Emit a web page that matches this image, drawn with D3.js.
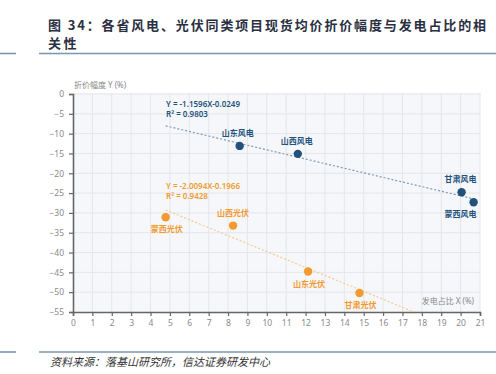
<!DOCTYPE html>
<html>
<head>
<meta charset="utf-8">
<script src="https://cdnjs.cloudflare.com/ajax/libs/d3/7.8.5/d3.min.js"></script>
<style>
  body { margin: 0; background: #fff; }
  svg { display: block; }
</style>
</head>
<body>
<svg id="chart"></svg>
<script>
const width = 496;
const height = 374;

const titleLine1 = "图 34：各省风电、光伏同类项目现货均价折价幅度与发电占比的相";
const titleLine2 = "关性";
const sourceText = "资料来源：落基山研究所，信达证券研发中心";

// data
const windNames = ["山东风电", "山西风电", "甘肃风电", "蒙西风电"];
const windX = [8.6, 11.6, 20.05, 20.67];
const windY = [-13.1, -15.1, -24.8, -27.3];

const solarNames = ["蒙西光伏", "山西光伏", "山东光伏", "甘肃光伏"];
const solarX = [4.78, 8.26, 12.13, 14.78];
const solarY = [-31.1, -33.2, -44.8, -50.2];

// trend lines (from the equations, in % units)
const windTrend = [-1.1596, -2.49];
const solarTrend = [-2.0094, -19.66];
const windEq = ["Y = -1.1596X-0.0249", "R² = 0.9803"];
const solarEq = ["Y = -2.0094X-0.1966", "R² = 0.9428"];

const xTicks = d3.range(0, 22, 1);
const yTicks = [0, -5, -10, -15, -20, -25, -30, -35, -40, -45, -50, -55];
const xTitle = "发电占比 X (%)";
const yTitle = "折价幅度 Y (%)";

const blue = "#22527c";
const orange = "#f29a2e";
const font = "'Noto Sans', 'Noto Sans CJK SC', sans-serif";

const plot = { left: 73, right: 480, top: 94, bottom: 312 };

const svg = d3.select("#chart")
  .attr("width", width)
  .attr("height", height)
  .style("font-family", font);

// header
svg.append("text")
  .attr("x", 48).attr("y", 30)
  .attr("font-family", "'Noto Sans CJK SC', sans-serif")
  .attr("font-size", 13).attr("font-weight", "bold")
  .attr("textLength", 438).attr("lengthAdjust", "spacing")
  .attr("fill", "#2a3042")
  .text(titleLine1);
svg.append("text")
  .attr("x", 48).attr("y", 48)
  .attr("font-family", "'Noto Sans CJK SC', sans-serif")
  .attr("font-size", 13).attr("font-weight", "bold")
  .attr("letter-spacing", 2.5)
  .attr("fill", "#2a3042")
  .text(titleLine2);

function rule(y) {
  svg.append("line").attr("x1", 0).attr("x2", 16).attr("y1", y).attr("y2", y)
    .attr("stroke", "#7d94b0").attr("stroke-width", 1.6);
  svg.append("line").attr("x1", 39).attr("x2", width).attr("y1", y).attr("y2", y)
    .attr("stroke", "#7d94b0").attr("stroke-width", 1.6);
}
rule(53.5);
rule(352);

svg.append("text")
  .attr("x", 50).attr("y", 366)
  .attr("font-family", "'Noto Sans CJK SC', sans-serif")
  .attr("font-size", 11).attr("font-style", "italic")
  .attr("fill", "#333")
  .text(sourceText);

// scales
const x = d3.scaleLinear().domain([0, 21]).range([plot.left, plot.right]);
const y = d3.scaleLinear().domain([0, -55]).range([plot.top, plot.bottom]);

// plot background + grid
svg.append("rect")
  .attr("x", plot.left).attr("y", plot.top - 1)
  .attr("width", plot.right - plot.left).attr("height", plot.bottom - plot.top + 1)
  .attr("fill", "#f6f7fa");

svg.append("g").selectAll("line")
  .data(xTicks.slice(1))
  .join("line")
  .attr("x1", d => x(d)).attr("x2", d => x(d))
  .attr("y1", plot.top - 1).attr("y2", plot.bottom)
  .attr("stroke", "#e4e6ea").attr("stroke-width", 1);

svg.append("g").selectAll("line")
  .data(yTicks.slice(0, -1))
  .join("line")
  .attr("x1", plot.left).attr("x2", plot.right)
  .attr("y1", d => y(d)).attr("y2", d => y(d))
  .attr("stroke", "#e4e6ea").attr("stroke-width", 1);

// axes
const xAxis = d3.axisBottom(x).tickValues(xTicks).tickSize(4).tickPadding(4);
const yAxis = d3.axisLeft(y).tickValues(yTicks).tickSize(4).tickPadding(5);

const gx = svg.append("g")
  .attr("transform", "translate(0," + plot.bottom + ")")
  .call(xAxis);
const gy = svg.append("g")
  .attr("transform", "translate(" + plot.left + ",0)")
  .call(yAxis);

[gx, gy].forEach(g => {
  g.select(".domain").attr("stroke", "#666").attr("stroke-width", 1.6);
  g.selectAll(".tick line").attr("stroke", "#666").attr("stroke-width", 1.2);
  g.selectAll(".tick text").attr("fill", "#8a8a8a").attr("font-size", 8.5).attr("font-family", font);
});

svg.append("text")
  .attr("x", 74).attr("y", 88)
  .attr("font-size", 8).attr("fill", "#888")
  .text(yTitle);
svg.append("text")
  .attr("x", 474).attr("y", 304)
  .attr("text-anchor", "end")
  .attr("font-size", 8).attr("fill", "#888")
  .text(xTitle);

// trend lines
svg.append("clipPath").attr("id", "clip")
  .append("rect")
  .attr("x", plot.left).attr("y", plot.top)
  .attr("width", plot.right - plot.left).attr("height", plot.bottom - plot.top);

const allX = windX.concat(solarX);
const [x0, x1] = d3.extent(allX);

function trend(coef, color) {
  const pts = [x0, x1].map(v => [v, coef[0] * v + coef[1]]);
  svg.append("path")
    .attr("clip-path", "url(#clip)")
    .attr("d", d3.line().x(d => x(d[0])).y(d => y(d[1]))(pts))
    .attr("fill", "none")
    .attr("stroke", color)
    .attr("stroke-width", 1.2)
    .attr("stroke-dasharray", "2,2");
}
trend(windTrend, "#7e9ab6");
trend(solarTrend, "#f7c98f");

// equations
function equation(lines, color, yTop) {
  lines.forEach((t, i) => {
    svg.append("text")
      .attr("x", 166).attr("y", yTop + i * 9.6)
      .attr("font-size", 8).attr("font-weight", 600)
      .attr("fill", color)
      .text(t);
  });
}
equation(windEq, blue, 107);
equation(solarEq, orange, 189);

// points + labels
const windSide = ["up", "up", "up", "down"];
const solarSide = ["down", "up", "down", "down"];

function series(names, xs, ys, sides, color, shift) {
  const data = names.map((n, i) => ({ name: n, x: xs[i], y: ys[i], side: sides[i], dx: shift[i] }));
  svg.append("g").selectAll("circle")
    .data(data)
    .join("circle")
    .attr("cx", d => x(d.x))
    .attr("cy", d => y(d.y))
    .attr("r", 4.2)
    .attr("fill", color);
  svg.append("g").selectAll("text")
    .data(data)
    .join("text")
    .attr("x", d => x(d.x) + d.dx)
    .attr("y", d => y(d.y) + (d.side === "up" ? -10 : 15))
    .attr("text-anchor", "middle")
    .attr("font-family", "'Noto Sans CJK SC', sans-serif")
    .attr("font-size", 8).attr("font-weight", 600)
    .attr("fill", color)
    .text(d => d.name);
}
series(windNames, windX, windY, windSide, blue, [-2, -1, -1, -13]);
series(solarNames, solarX, solarY, solarSide, orange, [1, 0, 1, 1]);
</script>
</body>
</html>
